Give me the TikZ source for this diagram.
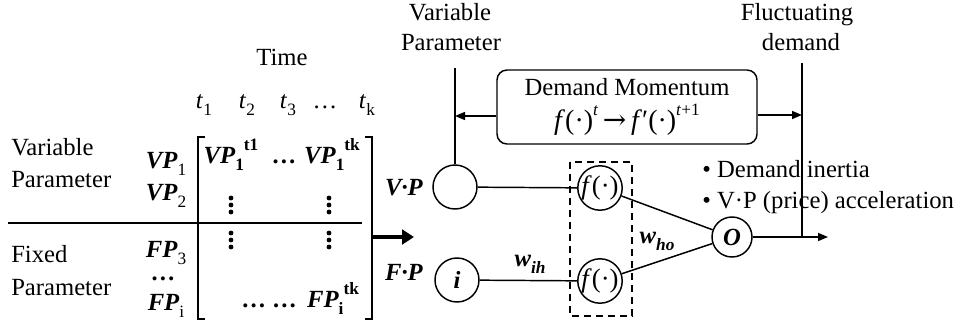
\documentclass[tikz,border=0pt]{standalone}
\usepackage{fontspec}
\setmainfont{Liberation Serif}
\newfontfamily\arrfont{DejaVu Serif}
\usetikzlibrary{arrows.meta,calc}
\newcommand\bi[1]{\textbf{\textit{#1}}}
\newcommand\lo[1]{\raisebox{-0.3em}{\fontsize{13}{13}\selectfont #1}}
\newcommand\hi[1]{\raisebox{0.5em}{\fontsize{13}{13}\selectfont #1}}
\begin{document}
\begin{tikzpicture}[x=0.75pt,y=-0.75pt,
  font=\fontsize{18.5}{24}\selectfont,
  txt/.style={inner sep=0pt,anchor=base},
  txtl/.style={inner sep=0pt,anchor=base west},
  neuron/.style={draw,circle,line width=1.1pt,inner sep=0pt},
  ln/.style={line width=1.1pt},
  arr/.style={line width=1.1pt,-{Triangle[length=7.5pt,width=6pt]}},
  vdot/.style={fill=black,circle,inner sep=0pt,minimum size=3.6pt}]
\useasboundingbox (0,0) rectangle (962,325);

% left labels
\node[txt] (time) at (282,65) {Time};
\node[txt] (t1) at (204,108) {\textit{t}\lo{1}};
\node[txt] (t2) at (247,108) {\textit{t}\lo{2}};
\node[txt] (t3) at (288,108) {\textit{t}\lo{3}};
\node[txt] (tdots) at (325,108) {…};
\node[txt] (tk) at (367,108) {\textit{t}\lo{k}};

\node[txtl] (var1) at (11,155) {Variable};
\node[txtl] (var2) at (11,187) {Parameter};
\node[txtl] (fix1) at (11,262) {Fixed};
\node[txtl] (fix2) at (11,295) {Parameter};

\node[txt] (vp1) at (166,168) {\bi{VP}\lo{1}};
\node[txt] (vp2) at (166,200) {\bi{VP}\lo{2}};
\node[txt] (fp3) at (166,257) {\bi{FP}\lo{3}};
\node[txt] (fpd) at (163,280) {\textbf{…}};
\node[txt] (fpi) at (166,310) {\bi{FP}\lo{i}};

\coordinate (hl) at (8,223);
\coordinate (hr) at (362,223);
\draw[ln] (hl) -- (hr);

% matrix brackets
\draw[ln] (205,137) -- (198,137) -- (198,319) -- (205,319);
\draw[ln] (365,137) -- (372,137) -- (372,319) -- (365,319);

\node[txt] (m11) at (231,163) {\bi{VP}\lo{\textbf{1}}\hi{\textbf{t1}}};
\node[txt] (m12) at (284,163) {\textbf{…}};
\node[txt] (m1k) at (332,163) {\bi{VP}\lo{\textbf{1}}\hi{\textbf{tk}}};
\node[txt] (mid) at (269,307) {\textbf{… …}};
\node[txt] (mik) at (333,307) {\bi{FP}\lo{\textbf{i}}\hi{\textbf{tk}}};
\foreach \x in {231,329}{
  \foreach \y in {198,205,212,233,240,247}{
    \node[vdot] at (\x,\y) {};
  }
}

% thick arrow
\coordinate (ta) at (373,237);
\coordinate (tb) at (414,237);
\draw[line width=3.2pt,-{Triangle[length=9pt,width=11pt]}] (ta) -- (tb);

% network
\node[txt] (vplab) at (404,195) {\bi{V·P}};
\node[txt] (fplab) at (404,280) {\bi{F·P}};
\node[neuron,minimum size=33pt] (vp) at (455,187) {};
\node[neuron,minimum size=33pt] (ih) at (457,280) {\bi{i}};
\node[neuron,minimum size=31.5pt,font=\fontsize{20}{20}\selectfont] (fa) at (600,188) {\textit{f}(·)};
\node[neuron,minimum size=31.5pt,font=\fontsize{20}{20}\selectfont] (fb) at (600,281) {\textit{f}(·)};
\node[neuron,minimum size=30pt] (o) at (732,237) {\bi{O}};
\draw[ln] (vp) -- (fa);
\draw[ln] (ih) -- (fb);
\draw[ln] (fa) -- (o);
\draw[ln] (fb) -- (o);
\draw[line width=1.5pt,dash pattern=on 5.5pt off 3.5pt] (570,162) rectangle (632,316);
\node[txt] (wih) at (530,266) {\bi{w}\lo{\bi{ih}}};
\node[txt] (who) at (657,243) {\bi{w}\lo{\bi{ho}}};

% top labels
\node[txt] (tv1) at (450,20) {Variable};
\node[txt] (tv2) at (451,50) {Parameter};
\node[txt] (tf1) at (797,20) {Fluctuating};
\node[txt] (tf2) at (801,50) {demand};

\coordinate (vtop) at (455,68);
\draw[ln] (vp.north) -- (vtop);

\node[draw,line width=1.1pt,rounded corners=7.5pt,minimum width=195pt,minimum height=55.5pt,align=center,inner sep=0pt] (dm) at (627,107)
  {Demand Momentum\\[1pt]{\fontsize{21}{21}\selectfont\textit{f}(·)\hi{\textit{t}}\,{\arrfont →}\,\textit{f}′(·)\hi{\textit{t}+1}}};

\coordinate (ftop) at (802,63);
\coordinate (fbot) at (802,237);

\coordinate (dml) at ($(dm.west)+(0,9)$);
\coordinate (dmr) at ($(dm.east)+(0,8)$);
\draw[arr] (dml) -- (dml -| vtop);
\draw[arr] (dmr) -- (dmr -| ftop);

\coordinate (out) at (828,237);
\draw[arr] (o) -- (out);

\node[txtl] (b1) at (702,177) {• Demand inertia};
\node[txtl] (b2) at (702,208) {• V·P (price) acceleration};
\draw[ln] (ftop) -- (fbot);
\end{tikzpicture}
\end{document}
